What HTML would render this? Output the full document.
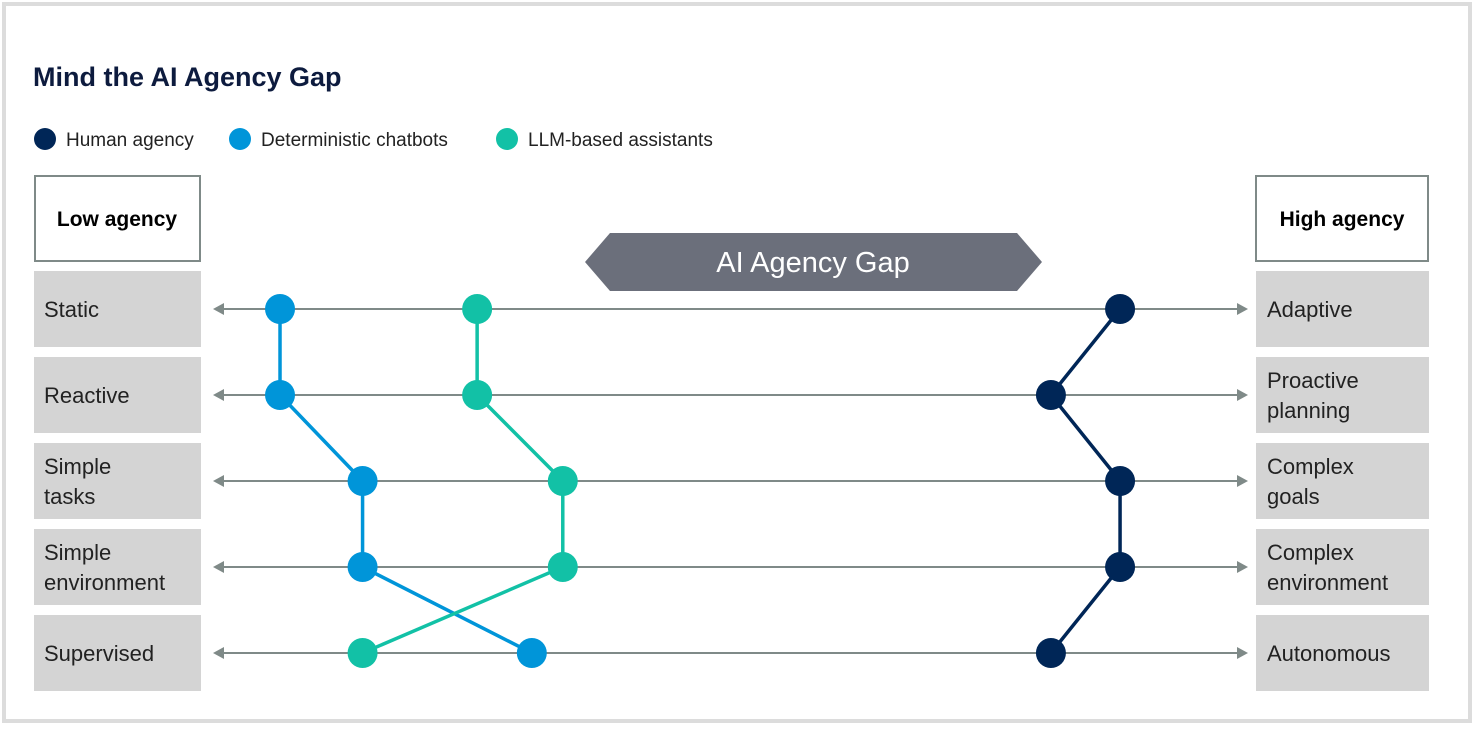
<!DOCTYPE html>
<html><head><meta charset="utf-8"><style>
body{margin:0;width:1475px;height:730px;background:#fff;overflow:hidden;font-family:"Liberation Sans",sans-serif}
</style></head><body>
<svg width="1475" height="730" xmlns="http://www.w3.org/2000/svg">
<rect x="4" y="4" width="1466" height="717" fill="#fff" stroke="#dcdcdc" stroke-width="4"/>
<text x="33" y="86" font-size="27" font-weight="bold" fill="#0d1b3e">Mind the  AI Agency Gap</text>
<g>
<circle cx="45" cy="139" r="11" fill="#002657"/>
<text x="66" y="146" font-size="19" fill="#222">Human agency</text>
<circle cx="240" cy="139" r="11" fill="#0095d9"/>
<text x="261" y="146" font-size="19" fill="#222">Deterministic chatbots</text>
<circle cx="507" cy="139" r="11" fill="#12c1a6"/>
<text x="528" y="146" font-size="19" fill="#222">LLM-based assistants</text>
</g>
<rect x="35" y="176" width="165" height="85" fill="#fff" stroke="#7f8a88" stroke-width="2"/>
<text x="117" y="226" font-size="21" font-weight="bold" text-anchor="middle">Low agency</text>
<rect x="1256" y="176" width="172" height="85" fill="#fff" stroke="#7f8a88" stroke-width="2"/>
<text x="1342" y="226" font-size="21" font-weight="bold" text-anchor="middle">High agency</text>
<polygon points="585,262 610,233 1017,233 1042,262 1017,291 610,291" fill="#6b6f7b"/>
<text x="813" y="272" font-size="29" fill="#fff" text-anchor="middle">AI Agency Gap</text>
<g id="rows"></g>
<g id="series"></g>
</svg>
<script>
const leftLabels=[["Static"],["Reactive"],["Simple","tasks"],["Simple","environment"],["Supervised"]];
const rightLabels=[["Adaptive"],["Proactive","planning"],["Complex","goals"],["Complex","environment"],["Autonomous"]];
const deterministic=[6.3,6.3,14.3,14.3,30.7];
const llm=[25.4,25.4,33.7,33.7,14.3];
const human=[87.7,81.0,87.7,87.7,81.0];
const NS="http://www.w3.org/2000/svg";
const xs=v=>215+v/100*1032;
const ys=i=>309+i*86;
function mk(tag,attrs,parent){const e=document.createElementNS(NS,tag);for(const k in attrs)e.setAttribute(k,attrs[k]);parent.appendChild(e);return e;}
const rows=document.getElementById('rows');
leftLabels.forEach((lab,i)=>{
  const y=ys(i);
  const lb=mk('rect',{x:34,y:y-38,width:167,height:76,fill:'#d4d4d4'},rows);
  
  
  const rb=mk('rect',{x:1256,y:y-38,width:173,height:76,fill:'#d4d4d4'},rows);
  
  
  [[lab,44],[rightLabels[i],1267]].forEach(([l,x])=>{
    l.forEach((s,j)=>{
      const t=mk('text',{x:x,y:y+8+(l.length===2?(j*30-15):0),'font-size':22,fill:'#222'},rows);
      t.textContent=s;
      
      
    });
  });
  const ln=mk('line',{x1:220,y1:y,x2:1242,y2:y,stroke:'#7f8a88','stroke-width':2},rows);
  
  
  const al=mk('polygon',{points:`213,${y} 224,${y-6} 224,${y+6}`,fill:'#7f8a88'},rows);
  
  
  const ar=mk('polygon',{points:`1248,${y} 1237,${y-6} 1237,${y+6}`,fill:'#7f8a88'},rows);
  
  
});
const sg=document.getElementById('series');
[[deterministic,'#0095d9','deterministic'],[llm,'#12c1a6','llm'],[human,'#002657','human']].forEach(([d,c,n])=>{
  const pl=mk('polyline',{points:d.map((v,i)=>xs(v)+','+ys(i)).join(' '),fill:'none',stroke:c,'stroke-width':3.5},sg);
  
  
  d.forEach((v,i)=>{
    const p=mk('circle',{cx:xs(v),cy:ys(i),r:15,fill:c},sg);
    
    
  });
});
</script>
</body></html>
